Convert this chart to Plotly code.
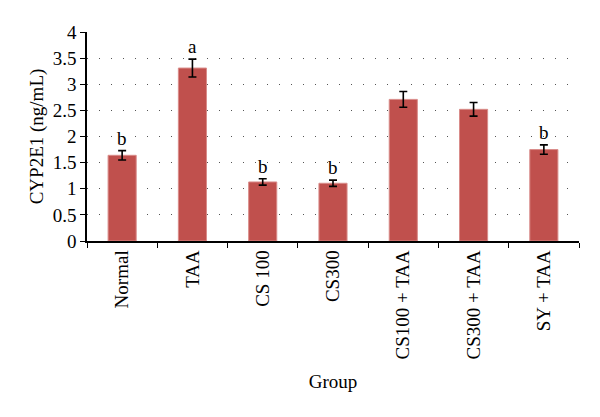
import plotly.graph_objects as go

groups = ["Normal", "TAA", "CS 100", "CS300", "CS100 + TAA", "CS300 + TAA", "SY + TAA"]
values = [1.64, 3.31, 1.13, 1.105, 2.71, 2.52, 1.75]
errors = [0.09, 0.17, 0.06, 0.06, 0.15, 0.13, 0.09]
letters = ["b", "a", "b", "b", "", "", "b"]
y_ticks = [0, 0.5, 1, 1.5, 2, 2.5, 3, 3.5, 4]
y_tick_text = ["0", "0.5", "1", "1.5", "2", "2.5", "3", "3.5", "4"]

FONT = "Liberation Serif"

fig = go.Figure()
fig.add_trace(go.Bar(
    x=groups, y=values,
    marker=dict(color="#c0504d", line=dict(color="#d98c8a", width=1)),
    error_y=dict(type="data", array=errors, color="black", thickness=1.6, width=4),
    width=0.4,
))

for g, v, e, t in zip(groups, values, errors, letters):
    if t:
        fig.add_annotation(x=g, y=v + e, text=t, showarrow=False,
                           yanchor="bottom", yshift=0,
                           font=dict(family=FONT, size=19, color="black"))

fig.update_layout(
    width=600, height=417,
    margin=dict(l=79, r=29, t=24, b=184),
    paper_bgcolor="white", plot_bgcolor="white",
    showlegend=False,
    font=dict(family=FONT, size=19, color="black"),
    xaxis=dict(
        type="category", tickson="boundaries",
        showline=True, linecolor="black", linewidth=1.5,
        ticks="outside", ticklen=5, tickcolor="black", tickwidth=1,
        tickangle=-90, tickfont=dict(family=FONT, size=19),
        showgrid=False,
        title=dict(text="Group", font=dict(family=FONT, size=19), standoff=16),
        automargin=False,
    ),
    yaxis=dict(
        range=[0, 4], tickvals=y_ticks, ticktext=y_tick_text,
        showline=True, linecolor="black", linewidth=1.5,
        ticks="outside", ticklen=5, tickcolor="black",
        tickfont=dict(family=FONT, size=19),
        showgrid=True, gridcolor="#555555", gridwidth=1, griddash="1px,11px",
        zeroline=False,
        title=dict(text="CYP2E1 (ng/mL)", font=dict(family=FONT, size=19), standoff=4),
        automargin=False,
    ),
)

fig.write_html("out.html")
